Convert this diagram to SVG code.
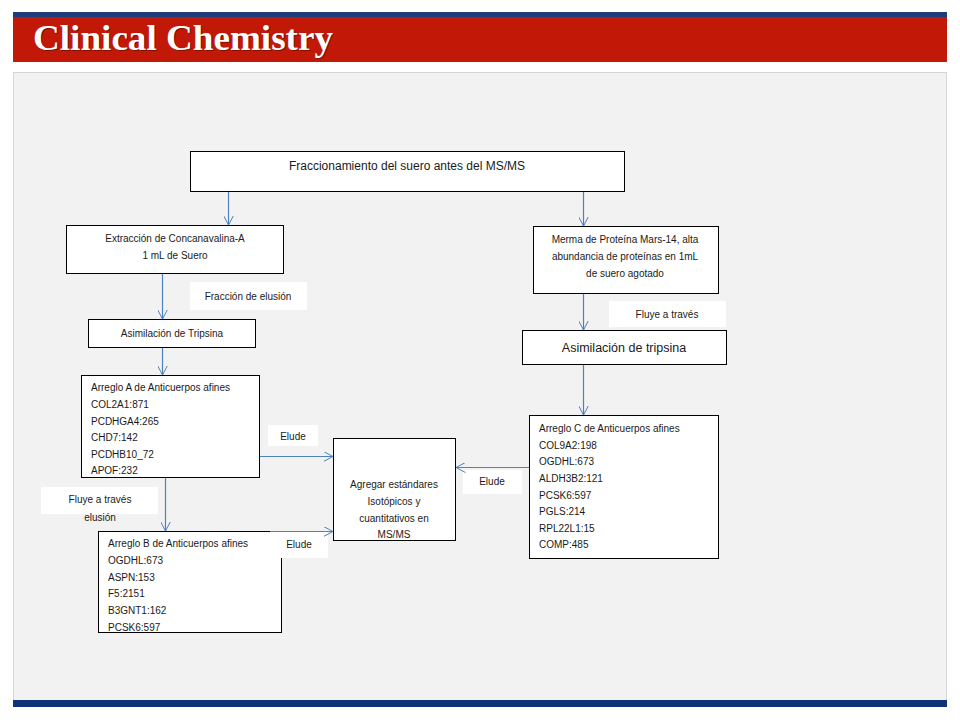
<svg xmlns="http://www.w3.org/2000/svg" width="960" height="720" viewBox="0 0 960 720">
<defs>
<marker id="arr" viewBox="0 0 10 10" refX="9.5" refY="5" markerWidth="10" markerHeight="10" markerUnits="userSpaceOnUse" orient="auto">
<path d="M0,0 L9.5,5 L0,10" fill="none" stroke="#4f81bd" stroke-width="1"/>
</marker>
</defs>
<style>
.box{fill:#ffffff;stroke:#000000;stroke-width:1}
.lbl{fill:#ffffff;stroke:none}
.t{font-family:"Liberation Sans","DejaVu Sans",sans-serif;font-size:10px;fill:#1a1a1a}
.c{text-anchor:middle}
.edge{stroke:#4f81bd;stroke-width:1.2;fill:none;marker-end:url(#arr)}
</style>
<rect x="0" y="0" width="960" height="720" fill="#ffffff"/>
<!-- header -->
<rect x="13" y="12" width="934" height="6" fill="#1f3c7a"/>
<rect x="13" y="17" width="934" height="45" fill="#c21807"/>
<text x="34" y="51" font-family="'Liberation Serif','DejaVu Serif',serif" font-weight="bold" font-size="36" textLength="300" lengthAdjust="spacingAndGlyphs" fill="#5a0a00" opacity="0.6">Clinical Chemistry</text>
<text x="33" y="50" font-family="'Liberation Serif','DejaVu Serif',serif" font-weight="bold" font-size="36" textLength="300" lengthAdjust="spacingAndGlyphs" fill="#ffffff">Clinical Chemistry</text>
<!-- panel -->
<rect x="13.5" y="72.5" width="933" height="628" fill="#f2f2f2" stroke="#d6d6d6" stroke-width="1"/>
<rect x="13" y="700" width="934" height="7" fill="#0d3276"/>

<g id="n-top"><rect class="box" x="190.5" y="151.5" width="434" height="40"/>
<text class="t c" x="407" y="170" style="font-size:12px">Fraccionamiento del suero antes del MS/MS</text></g>

<g id="n-extr"><rect class="box" x="66.5" y="225.5" width="217" height="48"/>
<text class="t c" x="175" y="242">Extracción de Concanavalina-A</text>
<text class="t c" x="175" y="259">1 mL de Suero</text></g>

<g id="l-frac"><rect class="lbl" x="190" y="282" width="117" height="28"/>
<text class="t c" x="248" y="300">Fracción de elusión</text></g>

<g id="n-asimL"><rect class="box" x="88.5" y="319.5" width="167" height="28"/>
<text class="t c" x="172" y="337">Asimilación de Tripsina</text></g>

<g id="n-A"><rect class="box" x="81.5" y="375.5" width="178" height="102"/>
<text class="t" x="91" y="391">Arreglo A de Anticuerpos afines</text>
<text class="t" x="91" y="408">COL2A1:871</text>
<text class="t" x="91" y="425">PCDHGA4:265</text>
<text class="t" x="91" y="441">CHD7:142</text>
<text class="t" x="91" y="458">PCDHB10_72</text>
<text class="t" x="91" y="474">APOF:232</text></g>

<g id="l-fluyeL"><rect class="lbl" x="41" y="487" width="117" height="27"/>
<text class="t c" x="100" y="503">Fluye a través</text>
<text class="t c" x="100" y="521">elusión</text></g>

<g id="n-B"><rect class="box" x="98.5" y="531.5" width="183" height="101"/>
<text class="t" x="108" y="547">Arreglo B de Anticuerpos afines</text>
<text class="t" x="108" y="564">OGDHL:673</text>
<text class="t" x="108" y="581">ASPN:153</text>
<text class="t" x="108" y="597">F5:2151</text>
<text class="t" x="108" y="614">B3GNT1:162</text>
<text class="t" x="108" y="631">PCSK6:597</text></g>

<g id="l-elude1"><rect class="lbl" x="268" y="425" width="50" height="21"/>
<text class="t c" x="293" y="440">Elude</text></g>

<g id="l-elude2"><rect class="lbl" x="270" y="531" width="58" height="27"/>
<text class="t c" x="299" y="548">Elude</text></g>

<g id="n-agregar"><rect class="box" x="333.5" y="438.5" width="122" height="102"/>
<text class="t c" x="394" y="488">Agregar estándares</text>
<text class="t c" x="394" y="505">Isotópicos y</text>
<text class="t c" x="394" y="522">cuantitativos en</text>
<text class="t c" x="394" y="538">MS/MS</text></g>

<g id="l-elude3"><rect class="lbl" x="463" y="470" width="59" height="24"/>
<text class="t c" x="492" y="485">Elude</text></g>

<g id="n-merma"><rect class="box" x="533.5" y="226.5" width="185" height="67"/>
<text class="t c" x="625" y="243">Merma de Proteína  Mars-14, alta</text>
<text class="t c" x="625" y="260">abundancia de proteínas en 1mL</text>
<text class="t c" x="625" y="277">de suero agotado</text></g>

<g id="l-fluyeR"><rect class="lbl" x="609" y="301" width="117" height="26"/>
<text class="t c" x="667" y="318">Fluye a través</text></g>

<g id="n-asimR"><rect class="box" x="522.5" y="330.5" width="204" height="34"/>
<text class="t c" x="624" y="352" style="font-size:12.5px">Asimilación de tripsina</text></g>

<g id="n-C"><rect class="box" x="529.5" y="415.5" width="189" height="143"/>
<text class="t" x="539" y="432">Arreglo C de Anticuerpos afines</text>
<text class="t" x="539" y="449">COL9A2:198</text>
<text class="t" x="539" y="465">OGDHL:673</text>
<text class="t" x="539" y="482">ALDH3B2:121</text>
<text class="t" x="539" y="499">PCSK6:597</text>
<text class="t" x="539" y="515">PGLS:214</text>
<text class="t" x="539" y="532">RPL22L1:15</text>
<text class="t" x="539" y="548">COMP:485</text></g>

<g id="edges">
<line class="edge" x1="228.5" y1="192" x2="228.5" y2="225"/>
<line class="edge" x1="583.5" y1="192" x2="583.5" y2="226"/>
<line class="edge" x1="162.5" y1="274" x2="162.5" y2="319"/>
<line class="edge" x1="162.5" y1="348" x2="162.5" y2="375"/>
<line class="edge" x1="165.5" y1="478" x2="165.5" y2="531"/>
<line class="edge" x1="260" y1="456.5" x2="333" y2="456.5"/>
<line class="edge" x1="270" y1="531.5" x2="333" y2="531.5"/>
<line class="edge" x1="529" y1="467.5" x2="456" y2="467.5"/>
<line class="edge" x1="583.5" y1="294" x2="583.5" y2="330"/>
<line class="edge" x1="583.5" y1="365" x2="583.5" y2="415"/>
</g>
</svg>
